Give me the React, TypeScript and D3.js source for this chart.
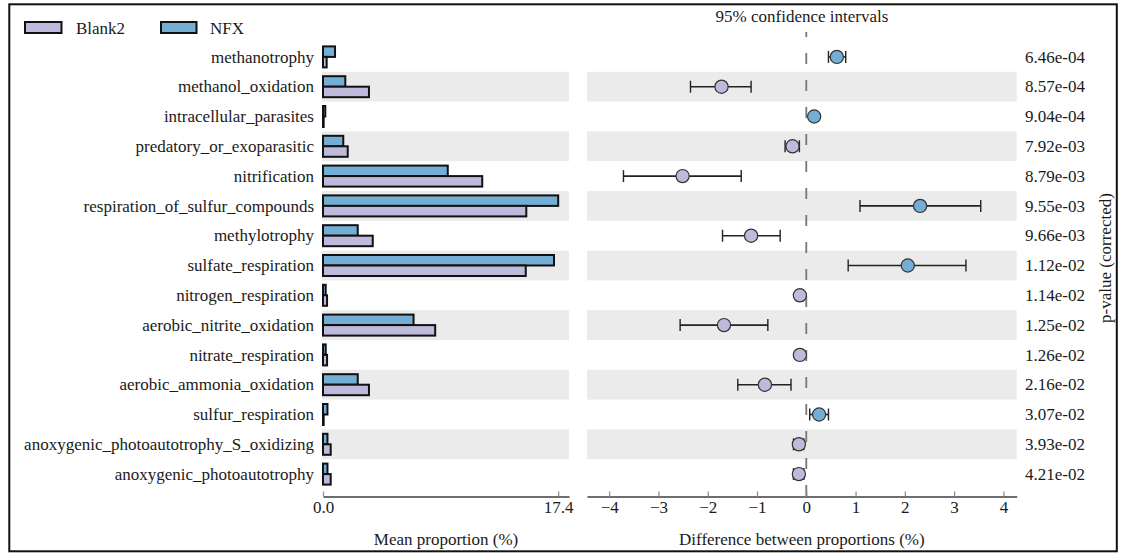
import React, { useEffect, useRef } from "react";
import * as d3 from "d3";

const categories = [
  "methanotrophy",
  "methanol_oxidation",
  "intracellular_parasites",
  "predatory_or_exoparasitic",
  "nitrification",
  "respiration_of_sulfur_compounds",
  "methylotrophy",
  "sulfate_respiration",
  "nitrogen_respiration",
  "aerobic_nitrite_oxidation",
  "nitrate_respiration",
  "aerobic_ammonia_oxidation",
  "sulfur_respiration",
  "anoxygenic_photoautotrophy_S_oxidizing",
  "anoxygenic_photoautotrophy",
];
const blank2 = [0.27, 3.4, 0.05, 1.83, 11.78, 15.04, 3.68, 15.0, 0.3, 8.3, 0.3, 3.4, 0.05, 0.57, 0.57];
const nfx = [0.89, 1.65, 0.17, 1.5, 9.23, 17.4, 2.57, 17.09, 0.2, 6.7, 0.2, 2.57, 0.33, 0.33, 0.33];
const diffs = [0.62, -1.72, 0.16, -0.28, -2.51, 2.31, -1.12, 2.06, -0.13, -1.67, -0.13, -0.84, 0.26, -0.15, -0.15];
const ciLow = [0.45, -2.35, 0.12, -0.43, -3.71, 1.09, -1.7, 0.85, -0.2, -2.56, -0.2, -1.39, 0.07, -0.26, -0.26];
const ciHigh = [0.8, -1.12, 0.2, -0.14, -1.32, 3.54, -0.53, 3.24, -0.06, -0.78, -0.06, -0.31, 0.45, -0.05, -0.05];
const pValues = [
  "6.46e-04", "8.57e-04", "9.04e-04", "7.92e-03", "8.79e-03", "9.55e-03", "9.66e-03",
  "1.12e-02", "1.14e-02", "1.25e-02", "1.26e-02", "2.16e-02", "3.07e-02", "3.93e-02", "4.21e-02",
];
const groups = ["Blank2", "NFX"];
const leftTicks = [0, 17.4];
const rightTicks = [-4, -3, -2, -1, 0, 1, 2, 3, 4];

const W = 1121;
const H = 553;
const FONT = "'Liberation Serif', 'Times New Roman', serif";
const FS = 17;
const C_BLANK = "#bebadb";
const C_NFX = "#74aed4";
const C_BAND = "#ebebeb";
const TEXT = "#1a1a1a";

export default function App() {
  const leftAxisRef = useRef<SVGGElement>(null);
  const rightAxisRef = useRef<SVGGElement>(null);

  const y = d3.scaleBand<string>().domain(categories).range([42, 489]).paddingInner(0).paddingOuter(0);
  const xL = d3.scaleLinear().domain([0, 18.2]).range([323, 569]);
  const xR = d3.scaleLinear().domain([-4.45, 4.27]).range([587, 1016.7]);
  const axisY = 496.5;
  const bh = 10.5;

  useEffect(() => {
    const style = (g: d3.Selection<SVGGElement, unknown, null, undefined>) => {
      g.select(".domain").attr("stroke", "#6e6e6e").attr("stroke-width", 2.2);
      g.selectAll(".tick line").attr("stroke", "#8a8a8a").attr("stroke-width", 1.2);
      g.selectAll(".tick text")
        .attr("font-family", FONT)
        .attr("font-size", FS)
        .attr("fill", TEXT)
        .attr("dy", "0.2em");
    };
    if (leftAxisRef.current) {
      const g = d3.select(leftAxisRef.current);
      g.selectAll("*").remove();
      g.call(
        d3.axisBottom(xL).tickValues(leftTicks).tickFormat(d3.format(".1f")).tickSizeInner(-5).tickSizeOuter(0).tickPadding(13)
      );
      style(g);
    }
    if (rightAxisRef.current) {
      const g = d3.select(rightAxisRef.current);
      g.selectAll("*").remove();
      g.call(
        d3.axisBottom(xR).tickValues(rightTicks).tickFormat(d3.format("d")).tickSizeInner(-5).tickSizeOuter(0).tickPadding(13)
      );
      style(g);
    }
  }, []);

  const rowC = (c: string) => (y(c) as number) + y.bandwidth() / 2;

  return (
    <svg
      width={W}
      height={H}
      style={{ position: "absolute", left: 0, top: 0, background: "#fff" }}
      fontFamily={FONT}
    >
      <rect x={0} y={0} width={W} height={H} fill="#fff" />
      <rect x={9.3} y={4.3} width={1107.5} height={547} fill="none" stroke="#111" strokeWidth={2} />

      {/* legend */}
      <rect x={25} y={22} width={36.5} height={11} fill={C_BLANK} stroke="#111" strokeWidth={2} />
      <text x={76} y={33.5} fontSize={FS} fill={TEXT}>{groups[0]}</text>
      <rect x={161} y={22} width={35.5} height={11} fill={C_NFX} stroke="#111" strokeWidth={2} />
      <text x={210} y={33.5} fontSize={FS} fill={TEXT}>{groups[1]}</text>

      {/* bands */}
      {categories.map((c, i) =>
        i % 2 === 1 ? (
          <g key={"band" + c}>
            <rect x={xL.range()[0] - 1} y={y(c)} width={xL.range()[1] - xL.range()[0] + 1} height={y.bandwidth()} fill={C_BAND} />
            <rect x={xR.range()[0]} y={y(c)} width={xR.range()[1] - xR.range()[0]} height={y.bandwidth()} fill={C_BAND} />
          </g>
        ) : null
      )}

      {/* category labels */}
      {categories.map((c) => (
        <text key={"lab" + c} x={314} y={rowC(c)} dy="0.33em" textAnchor="end" fontSize={FS} fill={TEXT}>
          {c}
        </text>
      ))}

      {/* bars */}
      {categories.map((c, i) => (
        <g key={"bar" + c}>
          <rect x={xL(0)} y={rowC(c) - bh} width={Math.max(0.01, xL(nfx[i]) - xL(0))} height={bh} fill={C_NFX} stroke="#111" strokeWidth={2} />
          <rect x={xL(0)} y={rowC(c)} width={Math.max(0.01, xL(blank2[i]) - xL(0))} height={bh} fill={C_BLANK} stroke="#111" strokeWidth={2} />
        </g>
      ))}

      {/* dashed zero line */}
      <line x1={xR(0)} x2={xR(0)} y1={32} y2={axisY} stroke="#777" strokeWidth={1.8} strokeDasharray="11,16" strokeDashoffset={6} />

      {/* CI */}
      {categories.map((c, i) => {
        const cy = rowC(c);
        return (
          <g key={"ci" + c}>
            <line x1={xR(ciLow[i])} x2={xR(ciHigh[i])} y1={cy} y2={cy} stroke="#222" strokeWidth={1.6} />
            <line x1={xR(ciLow[i])} x2={xR(ciLow[i])} y1={cy - 6} y2={cy + 6} stroke="#222" strokeWidth={1.4} />
            <line x1={xR(ciHigh[i])} x2={xR(ciHigh[i])} y1={cy - 6} y2={cy + 6} stroke="#222" strokeWidth={1.4} />
            <circle cx={xR(diffs[i])} cy={cy} r={6.6} fill={diffs[i] > 0 ? C_NFX : C_BLANK} stroke="#333" strokeWidth={1.2} />
          </g>
        );
      })}

      {/* p-values */}
      {categories.map((c, i) => (
        <text key={"p" + c} x={1025} y={rowC(c)} dy="0.33em" fontSize={FS} fill={TEXT}>
          {pValues[i]}
        </text>
      ))}

      <g ref={leftAxisRef} transform={`translate(0,${axisY})`} />
      <g ref={rightAxisRef} transform={`translate(0,${axisY})`} />

      <text x={(xL.range()[0] + xL.range()[1]) / 2} y={545} textAnchor="middle" fontSize={FS} fill={TEXT}>
        Mean proportion (%)
      </text>
      <text x={(xR.range()[0] + xR.range()[1]) / 2} y={545} textAnchor="middle" fontSize={FS} fill={TEXT}>
        Difference between proportions (%)
      </text>
      <text x={802} y={21.5} textAnchor="middle" fontSize={FS} fill={TEXT}>
        95% confidence intervals
      </text>
      <text transform="translate(1111,258) rotate(-90)" textAnchor="middle" fontSize={FS} fill={TEXT}>
        p-value (corrected)
      </text>
    </svg>
  );
}
